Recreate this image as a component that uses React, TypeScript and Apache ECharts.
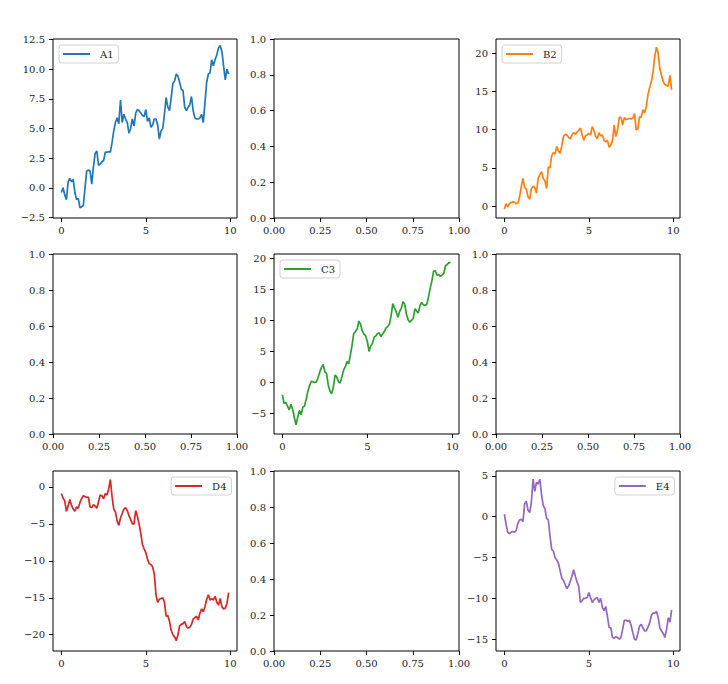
import React, { useEffect, useRef } from "react";
import * as echarts from "echarts";

const X = Array.from({ length: 100 }, (_, i) => +(i * 0.1).toFixed(1));

const A1 = [-0.4, 0.0, -0.6, -1.0, 0.5, 0.8, 0.5, 0.7, -0.4, -1.0, -0.9, -1.7, -1.6, -1.5, 0.0, 1.4, 1.5, 1.4, 0.3, 1.8,
  2.9, 3.1, 1.9, 2.0, 2.2, 2.3, 3.0, 3.0, 3.05, 3.0, 3.8, 4.8, 5.5, 5.9, 5.4, 7.4, 5.5, 6.2, 5.8, 5.5,
  4.6, 5.0, 5.8, 5.2, 6.3, 6.6, 6.5, 6.3, 6.1, 6.0, 6.6, 5.6, 5.9, 5.1, 5.3, 5.8, 5.8, 5.3, 4.1, 4.8,
  5.0, 6.2, 7.6, 6.8, 6.5, 7.6, 8.8, 9.0, 9.6, 9.4, 8.9, 8.3, 8.2, 6.8, 6.5, 6.8, 7.0, 7.7, 6.5, 5.9,
  5.8, 5.8, 5.9, 6.2, 5.5, 7.2, 8.9, 9.6, 9.7, 10.8, 10.3, 10.8, 11.2, 11.8, 12.0, 11.5, 10.3, 9.1, 10.0, 9.6];

const B2 = [-0.4, 0.3, -0.1, 0.3, 0.45, 0.55, 0.5, 0.3, 0.4, 1.2, 2.5, 3.6, 2.4, 2.2, 1.2, 0.9, 2.3, 2.6, 2.4, 1.7,
  3.6, 4.1, 4.5, 3.6, 3.3, 2.3, 5.1, 5.0, 6.6, 7.0, 6.8, 7.8, 7.2, 6.9, 7.9, 9.1, 9.4, 9.3, 9.0, 8.8,
  9.3, 9.6, 9.4, 9.7, 9.9, 10.2, 9.4, 8.6, 9.2, 9.3, 9.5, 9.3, 10.4, 9.9, 9.1, 8.8, 9.6, 9.2, 9.3, 8.6,
  8.4, 8.6, 7.7, 8.0, 8.6, 10.6, 9.1, 10.0, 11.6, 11.6, 10.6, 11.6, 11.3, 11.4, 11.5, 11.4, 11.5, 12.1, 10.0, 10.1,
  11.7, 11.6, 12.6, 12.2, 13.0, 14.6, 15.5, 16.3, 17.6, 19.6, 20.8, 20.0, 18.0, 17.1, 16.3, 15.9, 15.8, 15.7, 17.1, 15.2];

const C3 = [-2.0, -3.4, -3.2, -3.8, -4.4, -3.5, -4.3, -5.6, -6.8, -5.6, -4.5, -5.2, -4.0, -3.8, -2.7, -1.4, -0.5, 0.2, 0.1, 0.0,
  0.1, 0.8, 1.7, 2.4, 2.9, 1.7, 1.4, -0.4, -1.4, -1.8, -0.7, 1.2, 0.9, 0.1, -0.1, 0.9, 2.0, 2.5, 3.4, 3.0,
  4.4, 6.0, 7.9, 8.2, 8.6, 9.9, 9.4, 8.3, 7.8, 7.5, 6.6, 5.0, 5.9, 6.3, 7.3, 7.5, 7.9, 8.0, 7.4, 7.8,
  8.2, 8.8, 9.0, 9.4, 10.8, 12.7, 12.0, 11.4, 10.5, 11.4, 12.0, 13.0, 12.6, 11.0, 10.1, 9.7, 10.0, 10.3, 11.9, 11.5,
  11.2, 12.4, 12.9, 12.5, 12.4, 12.6, 13.8, 15.2, 16.4, 17.9, 18.0, 17.3, 17.4, 17.1, 17.3, 17.6, 18.8, 19.0, 19.3, 19.3];

const D4 = [-0.9, -1.5, -1.9, -3.3, -2.6, -1.7, -2.5, -3.0, -3.3, -2.7, -2.9, -2.1, -1.6, -1.2, -1.3, -1.4, -1.4, -2.7, -2.8, -2.4,
  -2.6, -2.9, -2.0, -1.1, -1.2, -1.6, -0.9, -1.1, -0.3, 1.0, -1.3, -3.0, -3.4, -4.6, -5.2, -4.2, -3.6, -3.0, -2.8, -3.2,
  -3.9, -4.4, -5.0, -5.0, -3.2, -4.0, -5.0, -6.3, -7.8, -8.4, -8.9, -9.8, -10.4, -10.5, -10.8, -11.8, -14.6, -15.6, -15.2, -15.1,
  -15.0, -15.6, -17.5, -17.4, -18.2, -19.4, -20.0, -20.3, -20.8, -20.0, -18.8, -18.6, -18.5, -18.2, -18.9, -19.1, -19.0, -18.6, -17.9, -17.7,
  -17.5, -18.0, -17.1, -16.5, -16.9, -16.2, -15.2, -14.6, -15.3, -15.1, -15.3, -14.8, -15.6, -16.0, -15.1, -16.2, -16.5, -16.4, -15.8, -14.3];

const E4 = [0.3, -0.9, -1.9, -2.1, -1.9, -1.8, -1.9, -1.7, -0.8, -0.4, -0.3, -0.6, 1.6, 1.9, 0.8, 0.5, 1.8, 4.6, 3.1, 4.2,
  4.0, 4.6, 2.7, 1.4, 1.0, -0.2, -0.4, -2.3, -4.0, -4.2, -5.0, -5.3, -5.7, -6.6, -7.5, -7.8, -8.3, -8.8, -8.5, -7.9,
  -7.3, -6.5, -7.3, -8.0, -8.5, -10.5, -10.3, -10.0, -10.0, -9.9, -9.3, -9.9, -10.5, -10.2, -10.0, -9.9, -10.5, -10.0, -11.1, -11.5,
  -11.0, -12.2, -13.6, -13.6, -14.8, -14.9, -14.7, -14.8, -15.0, -14.8, -13.8, -12.7, -12.7, -12.8, -12.7, -13.3, -14.2, -15.0, -15.1, -14.3,
  -13.4, -13.2, -13.6, -14.0, -14.0, -13.5, -13.0, -12.1, -11.8, -11.8, -11.6, -12.3, -13.6, -14.0, -14.3, -14.8, -13.8, -12.4, -12.9, -11.4];

const X_TICKS = [0, 5, 10];
const EMPTY_X_TICKS = [0, 0.25, 0.5, 0.75, 1];
const EMPTY_Y_TICKS = [0, 0.2, 0.4, 0.6, 0.8, 1.0];

const FONT = "'DejaVu Serif', 'Liberation Serif', serif";
const COLS = [{ left: 53, width: 184 }, { left: 274, width: 185 }, { left: 496, width: 184 }];
const ROWS = [{ top: 39, height: 179 }, { top: 254, height: 180 }, { top: 471, height: 180 }];

const minus = (s: string) => s.replace("-", "\u2212");

type Panel = {
  name?: string;
  data?: number[];
  color?: string;
  yMin?: number;
  yMax?: number;
  yTicks?: number[];
  yDec?: number;
  legendSide?: "left" | "right";
};

const PANELS: Panel[] = [
  { name: "A1", data: A1, color: "#1f77b4", yMin: -2.55, yMax: 12.55, yTicks: [-2.5, 0, 2.5, 5, 7.5, 10, 12.5], yDec: 1, legendSide: "left" },
  {},
  { name: "B2", data: B2, color: "#ff7f0e", yMin: -1.57, yMax: 21.87, yTicks: [0, 5, 10, 15, 20], yDec: 0, legendSide: "left" },
  {},
  { name: "C3", data: C3, color: "#2ca02c", yMin: -8.3, yMax: 20.7, yTicks: [-5, 0, 5, 10, 15, 20], yDec: 0, legendSide: "left" },
  {},
  { name: "D4", data: D4, color: "#d62728", yMin: -22.2, yMax: 2.15, yTicks: [-20, -15, -10, -5, 0], yDec: 0, legendSide: "right" },
  {},
  { name: "E4", data: E4, color: "#9467bd", yMin: -16.45, yMax: 5.6, yTicks: [-15, -10, -5, 0, 5], yDec: 0, legendSide: "right" },
];

export default function App() {
  const ref = useRef<HTMLDivElement>(null);
  useEffect(() => {
    if (!ref.current) return;
    const chart = echarts.init(ref.current, undefined, { renderer: "svg" });
    const grids: any[] = [];
    const xAxes: any[] = [];
    const yAxes: any[] = [];
    const series: any[] = [];
    const legends: any[] = [];
    const labelStyle = { fontFamily: FONT, fontSize: 10, color: "#222" };
    const tick = { show: true, length: 4, inside: false, lineStyle: { color: "#000", width: 1 } };
    const noLine = { show: false, onZero: false };

    PANELS.forEach((p, i) => {
      const c = COLS[i % 3];
      const r = ROWS[Math.floor(i / 3)];
      grids.push({
        left: c.left, top: r.top, width: c.width, height: r.height,
        show: true, borderColor: "#000", borderWidth: 1, backgroundColor: "transparent",
        containLabel: false,
      });
      if (p.data) {
        xAxes.push({
          type: "value", gridIndex: i, min: -0.495, max: 10.395, position: "bottom",
          axisLine: noLine, splitLine: { show: false },
          axisTick: { ...tick, customValues: X_TICKS },
          axisLabel: { ...labelStyle, margin: 7, customValues: X_TICKS, formatter: (v: number) => minus(String(v)) },
        });
        yAxes.push({
          type: "value", gridIndex: i, min: p.yMin, max: p.yMax, position: "left",
          axisLine: noLine, splitLine: { show: false },
          axisTick: { ...tick, customValues: p.yTicks },
          axisLabel: { ...labelStyle, margin: 8, customValues: p.yTicks, formatter: (v: number) => minus(v.toFixed(p.yDec)) },
        });
        series.push({
          type: "line", name: p.name, xAxisIndex: i, yAxisIndex: i,
          data: X.map((x, k) => [x, p.data![k]]),
          showSymbol: false, symbol: "none", color: p.color,
          lineStyle: { color: p.color, width: 1.7 },
        });
        const leg: any = {
          data: [p.name], top: r.top + 6,
          icon: "rect", itemWidth: 27, itemHeight: 2,
          textStyle: { fontFamily: FONT, fontSize: 10, color: "#222", padding: [0, 0, 0, 5] },
          backgroundColor: "rgba(255,255,255,0.8)", borderColor: "#d0d0d0", borderWidth: 1, borderRadius: 3,
          padding: [4, 5, 4, 4], selectedMode: false,
        };
        if (p.legendSide === "left") leg.left = c.left + 6;
        else leg.right = 728 - (c.left + c.width - 5.5);
        legends.push(leg);
      } else {
        xAxes.push({
          type: "value", gridIndex: i, min: 0, max: 1, position: "bottom",
          axisLine: noLine, splitLine: { show: false },
          axisTick: { ...tick, customValues: EMPTY_X_TICKS },
          axisLabel: { ...labelStyle, margin: 7, customValues: EMPTY_X_TICKS, formatter: (v: number) => v.toFixed(2) },
        });
        yAxes.push({
          type: "value", gridIndex: i, min: 0, max: 1, position: "left",
          axisLine: noLine, splitLine: { show: false },
          axisTick: { ...tick, customValues: EMPTY_Y_TICKS },
          axisLabel: { ...labelStyle, margin: 8, customValues: EMPTY_Y_TICKS, formatter: (v: number) => v.toFixed(1) },
        });
      }
    });

    chart.setOption({
      animation: false,
      backgroundColor: "#fff",
      grid: grids,
      xAxis: xAxes,
      yAxis: yAxes,
      series,
      legend: legends,
    });
    return () => chart.dispose();
  }, []);
  return <div ref={ref} style={{ position: "fixed", left: 0, top: 0, width: 728, height: 684 }} />;
}
